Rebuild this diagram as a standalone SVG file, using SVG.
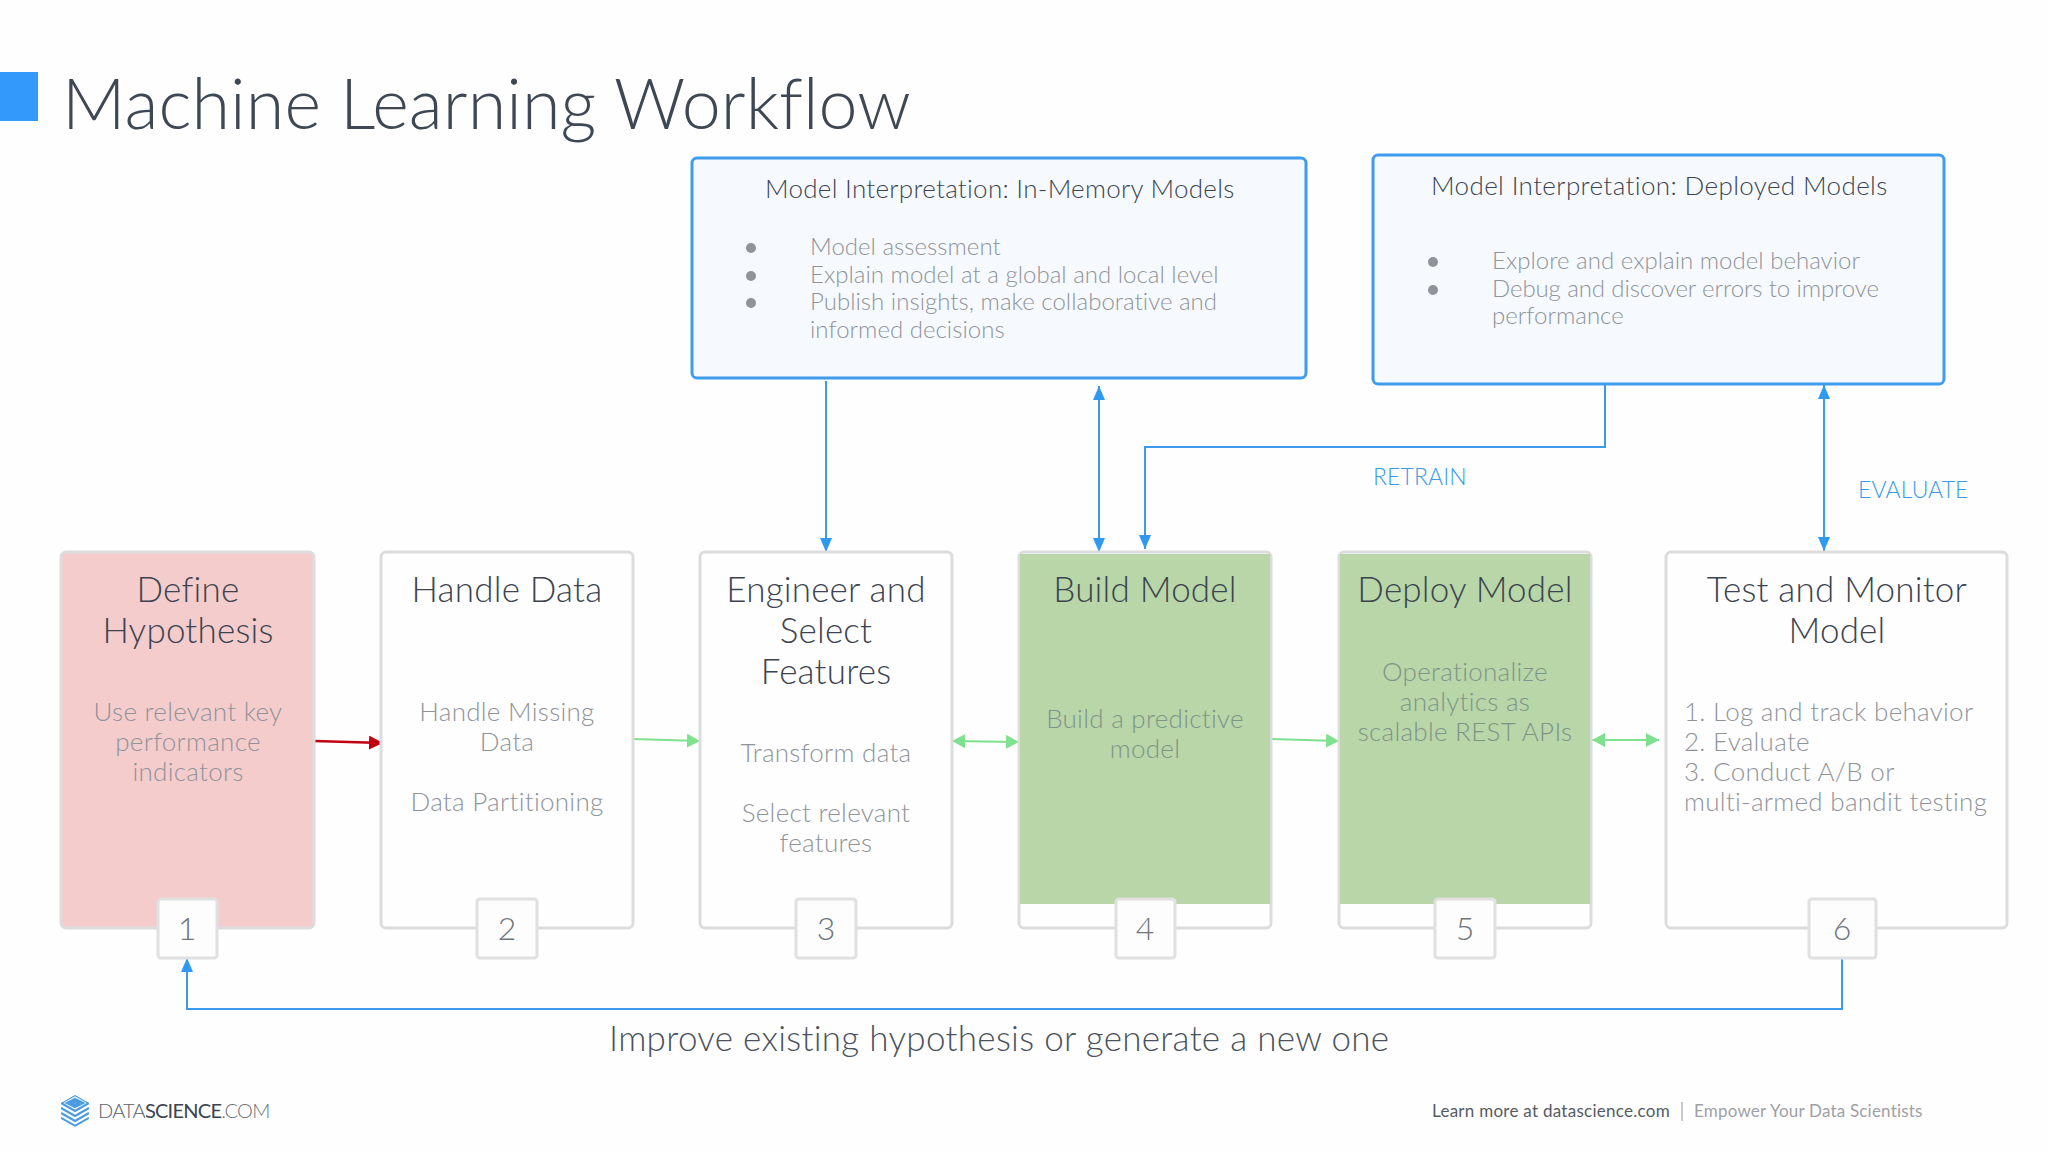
<svg xmlns="http://www.w3.org/2000/svg" width="2048" height="1152" viewBox="0 0 2048 1152">
<style>
text{font-family:"Lato","Noto Sans",sans-serif;font-weight:300}
.title{font-size:70px;fill:#3e4754;letter-spacing:.1px}
.ct{font-size:35px;fill:#3b4450;text-anchor:middle;letter-spacing:.2px}
.cb{font-size:26px;fill:#8f939a;text-anchor:middle;letter-spacing:.28px}
.ro{fill:#7f9488}
.st{text-anchor:start}
.num{font-size:32px;fill:#6e747c;text-anchor:middle}
.bt{font-size:26px;fill:#3b4450;letter-spacing:.28px}
.bb{font-size:24px;fill:#8f939a;letter-spacing:.02px}
.lab{font-size:23px;fill:#3a9bea;letter-spacing:.1px}
.card{stroke:#dcdcdc;stroke-width:3}
.badge{fill:#fdfdfd;stroke:#e0e0e0;stroke-width:3}
.info{fill:#f6faff;stroke:#3f9cec;stroke-width:3}
.bl{stroke:#3a9bea;stroke-width:2;fill:none}
.gr{stroke:#7fe08f;stroke-width:2;fill:none}
.rd{stroke:#c00010;stroke-width:2.5;fill:none}
.dot{fill:#8f939a}
</style>
<defs>
<marker id="ab" markerUnits="userSpaceOnUse" markerWidth="14" markerHeight="12" refX="14" refY="6" orient="auto-start-reverse"><path d="M0 0L14 6L0 12Z" fill="#2f98f0"/></marker>
<marker id="ag" markerUnits="userSpaceOnUse" markerWidth="13" markerHeight="14" refX="13" refY="7" orient="auto-start-reverse"><path d="M0 0L13 7L0 14Z" fill="#7fe08f"/></marker>
<marker id="ar" markerUnits="userSpaceOnUse" markerWidth="14" markerHeight="14" refX="14" refY="7" orient="auto-start-reverse"><path d="M0 0L14 7L0 14Z" fill="#c00010"/></marker>
<clipPath id="hex"><path d="M75 1095L89 1103V1119L75 1127L61 1119V1103Z"/></clipPath>
</defs>
<rect width="2048" height="1152" fill="#fefefe"/>
<g id="header"><rect x="0" y="72" width="38" height="49" fill="#3399fb"/><text class="title" x="62" y="128.5">Machine Learning Workflow</text></g>

<g id="connectors">
<path class="bl" d="M826 381V552" marker-end="url(#ab)"/>
<path class="bl" d="M1099 386V552" marker-start="url(#ab)" marker-end="url(#ab)"/>
<path class="bl" d="M1605 385V447H1145V549" marker-end="url(#ab)"/>
<path class="bl" d="M1824 385V551" marker-start="url(#ab)" marker-end="url(#ab)"/>
<path class="bl" d="M1842 958V1009H187V958" marker-end="url(#ab)"/>
<path class="rd" d="M314 741L383 743" marker-end="url(#ar)"/>
<path class="gr" d="M633 739L700 741" marker-end="url(#ag)"/>
<path class="gr" d="M952 741L1019 742" marker-start="url(#ag)" marker-end="url(#ag)"/>
<path class="gr" d="M1271 739L1339 741" marker-end="url(#ag)"/>
<path class="gr" d="M1592 740H1659" marker-start="url(#ag)" marker-end="url(#ag)"/>
</g>

<g id="interp-memory"><rect class="info" x="692" y="158" width="614" height="220" rx="5"/>
<text class="bt" x="765" y="198" letter-spacing=".25">Model Interpretation: In-Memory Models</text>
<circle class="dot" cx="751" cy="248" r="5"/><circle class="dot" cx="751" cy="276" r="5"/><circle class="dot" cx="751" cy="303" r="5"/>
<text class="bb" x="810" y="255">Model assessment</text><text class="bb" x="810" y="283">Explain model at a global and local level</text><text class="bb" x="810" y="310">Publish insights, make collaborative and</text><text class="bb" x="810" y="338">informed decisions</text></g>

<g id="interp-deployed"><rect class="info" x="1373" y="155" width="571" height="229" rx="5"/>
<text class="bt" x="1431" y="195" style="letter-spacing:.38px">Model Interpretation: Deployed Models</text>
<circle class="dot" cx="1433" cy="262" r="5"/><circle class="dot" cx="1433" cy="290" r="5"/>
<text class="bb" x="1492" y="269">Explore and explain model behavior</text><text class="bb" x="1492" y="297" style="letter-spacing:-.1px">Debug and discover errors to improve</text><text class="bb" x="1492" y="324">performance</text></g>

<text class="lab" x="1373" y="485">RETRAIN</text>
<text class="lab" x="1858" y="498">EVALUATE</text>

<g id="step1"><rect class="card" x="61" y="552" width="253" height="376" rx="5" fill="#f4cccc"/>
<text class="ct" x="188" y="602">Define</text><text class="ct" x="188" y="643">Hypothesis</text>
<text class="cb" x="188" y="721">Use relevant key</text><text class="cb" x="188" y="751">performance</text><text class="cb" x="188" y="781">indicators</text>
<rect class="badge" x="158" y="899" width="59" height="59" rx="3"/><text class="num" x="187" y="940">1</text></g>

<g id="step2"><rect class="card" x="381" y="552" width="252" height="376" rx="5" fill="#fefefe"/>
<text class="ct" x="507" y="602">Handle Data</text>
<text class="cb" x="507" y="721">Handle Missing</text><text class="cb" x="507" y="751">Data</text><text class="cb" x="507" y="811">Data Partitioning</text>
<rect class="badge" x="477" y="899" width="60" height="59" rx="3"/><text class="num" x="507" y="940">2</text></g>

<g id="step3"><rect class="card" x="700" y="552" width="252" height="376" rx="5" fill="#fefefe"/>
<text class="ct" x="826" y="602">Engineer and</text><text class="ct" x="826" y="643">Select</text><text class="ct" x="826" y="684">Features</text>
<text class="cb" x="826" y="762">Transform data</text><text class="cb" x="826" y="822">Select relevant</text><text class="cb" x="826" y="852">features</text>
<rect class="badge" x="796" y="899" width="60" height="59" rx="3"/><text class="num" x="826" y="940">3</text></g>

<g id="step4"><rect class="card" x="1019" y="552" width="252" height="376" rx="5" fill="#fefefe"/><path d="M1020 904V554H1270V904Z" fill="#b8d6a8"/>
<text class="ct" x="1145" y="602">Build Model</text>
<text class="cb ro" x="1145" y="728">Build a predictive</text><text class="cb ro" x="1145" y="758">model</text>
<rect class="badge" x="1116" y="899" width="59" height="59" rx="3"/><text class="num" x="1145" y="940">4</text></g>

<g id="step5"><rect class="card" x="1339" y="552" width="252" height="376" rx="5" fill="#fefefe"/><path d="M1340 904V554H1590V904Z" fill="#b8d6a8"/>
<text class="ct" x="1465" y="602">Deploy Model</text>
<text class="cb ro" x="1465" y="681">Operationalize</text><text class="cb ro" x="1465" y="711">analytics as</text><text class="cb ro" x="1465" y="741">scalable REST APIs</text>
<rect class="badge" x="1435" y="899" width="60" height="59" rx="3"/><text class="num" x="1465" y="940">5</text></g>

<g id="step6"><rect class="card" x="1666" y="552" width="341" height="376" rx="5" fill="#fefefe"/>
<text class="ct" x="1837" y="602">Test and Monitor</text><text class="ct" x="1837" y="643">Model</text>
<text class="cb st" x="1684" y="721">1. Log and track behavior</text><text class="cb st" x="1684" y="751">2. Evaluate</text><text class="cb st" x="1684" y="781">3. Conduct A/B or</text><text class="cb st" x="1684" y="811">multi-armed bandit testing</text>
<rect class="badge" x="1809" y="899" width="67" height="59" rx="3"/><text class="num" x="1842" y="940">6</text></g>

<text id="feedback" x="609" y="1051" font-size="35" fill="#4a525d" letter-spacing=".3">Improve existing hypothesis or generate a new one</text>

<g id="logo"><g clip-path="url(#hex)" stroke="#4a9be0" stroke-width="2.2" fill="none">
<path d="M61 1103L75 1111L89 1103M61 1108L75 1116L89 1108M61 1113L75 1121L89 1113M61 1118L75 1126L89 1118M61 1123L75 1131L89 1123"/>
<path d="M61 1103L75 1095L89 1103M67 1103L75 1099L83 1103L75 1107ZM72 1103L75 1101.5L78 1103L75 1104.5Z"/>
</g>
<text x="98" y="1118" font-size="20" letter-spacing="-.75"><tspan fill="#5a6068">DATA</tspan><tspan fill="#3b4450" style="font-weight:400">SCIENCE</tspan><tspan fill="#6a7078">.COM</tspan></text></g>

<g id="footer"><text x="1432" y="1117" font-size="17" fill="#555b64" letter-spacing=".27" style="font-weight:400">Learn more at datascience.com</text><path d="M1682 1102V1121" stroke="#b8b8bc" stroke-width="1.5"/><text x="1694" y="1117" font-size="17" fill="#a0a0a6" letter-spacing=".2" style="font-weight:400">Empower Your Data Scientists</text></g>
</svg>
